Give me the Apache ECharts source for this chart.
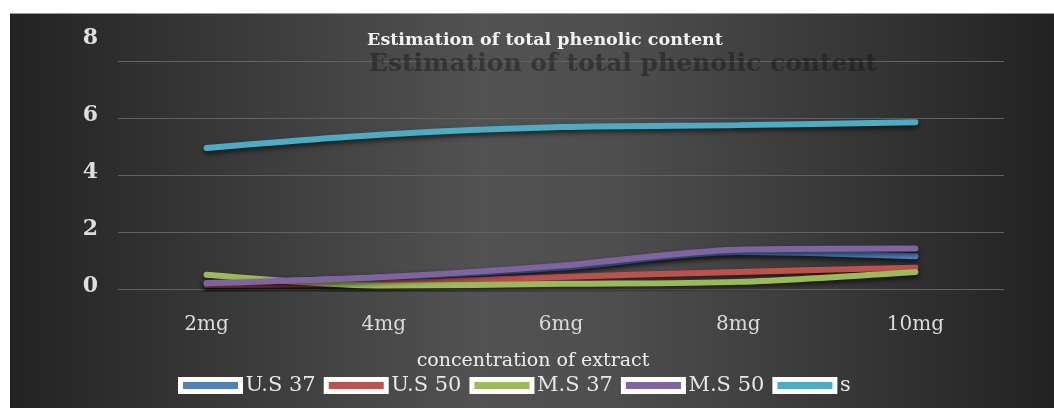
<!DOCTYPE html>
<html>
<head>
<meta charset="utf-8">
<script src="https://cdn.jsdelivr.net/npm/echarts@6/dist/echarts.min.js"></script>
<style>
  html, body { margin: 0; padding: 0; background: #ffffff; }
  #chart { position: absolute; left: 10px; top: 13px; width: 1044px; height: 395px; border-top: 1px solid #9a9a9a; box-sizing: border-box; }
</style>
</head>
<body>
<div id="chart"></div>
<script>
// Concentration levels on the x axis
const categories = ['2mg', '4mg', '6mg', '8mg', '10mg'];
// Total phenolic content per sample
const seriesNames = ['U.S 37', 'U.S 50', 'M.S 37', 'M.S 50', 's'];
const us37 = [0.22, 0.40, 0.75, 1.30, 1.15];
const us50 = [0.15, 0.20, 0.42, 0.60, 0.75];
const ms37 = [0.50, 0.12, 0.18, 0.25, 0.60];
const ms50 = [0.20, 0.42, 0.82, 1.38, 1.42];
const sStd = [4.95, 5.42, 5.68, 5.75, 5.85];
const yTicks = [0, 2, 4, 6, 8];

const colors = ['#4f81bd', '#c0504d', '#9bbb59', '#8064a2', '#4bacc6'];
const values = [us37, us50, ms37, ms50, sStd];
const serif = 'DejaVu Serif';

const chart = echarts.init(document.getElementById('chart'), null, { renderer: 'canvas' });

chart.setOption({
  backgroundColor: {
    type: 'linear', x: 0, y: 0, x2: 1, y2: 0,
    colorStops: [
      { offset: 0, color: '#232323' },
      { offset: 0.45, color: '#525252' },
      { offset: 0.58, color: '#4e4e4e' },
      { offset: 1, color: '#222222' }
    ]
  },
  animation: false,
  title: [
    {
      text: 'Estimation of total phenolic content',
      left: 608, top: 33, textAlign: 'center',
      textStyle: { fontFamily: serif, fontWeight: 'bold', fontSize: 25, color: 'rgba(20,20,20,0.45)' }
    },
    {
      text: 'Estimation of total phenolic content',
      left: 530, top: 12, textAlign: 'center',
      textStyle: { fontFamily: serif, fontWeight: 'bold', fontSize: 17.5, color: '#f2f2f2' }
    }
  ],
  grid: { left: 108, right: 50, top: 47, bottom: 119 },
  legend: {
    data: seriesNames,
    left: 163, top: 356,
    icon: 'rect',
    itemWidth: 60, itemHeight: 12, itemGap: 8,
    itemStyle: { borderColor: '#ffffff', borderWidth: 5 },
    textStyle: { fontFamily: serif, fontSize: 21, color: '#e8e8e8' }
  },
  xAxis: {
    type: 'category',
    data: categories,
    boundaryGap: true,
    name: 'concentration of extract',
    nameLocation: 'middle',
    nameGap: 63,
    nameTextStyle: { fontFamily: serif, fontSize: 19, color: '#ededed', padding: [0, 56, 0, 0] },
    axisLine: { show: false },
    axisTick: { show: false },
    axisLabel: { fontFamily: serif, fontSize: 20, color: '#dcdcdc', margin: 26 }
  },
  yAxis: {
    type: 'value',
    min: yTicks[0], max: yTicks[yTicks.length - 1], interval: 2,
    axisLine: { show: false },
    axisTick: { show: false },
    splitLine: { lineStyle: { color: '#626262', width: 1 } },
    axisLabel: {
      margin: 20,
      formatter: v => v === 8 ? '{top|' + v + '}' : '{n|' + v + '}',
      rich: {
        n: { fontFamily: serif, fontSize: 22, fontWeight: 'bold', color: '#dedede', padding: [0, 0, 6, 0] },
        top: { fontFamily: serif, fontSize: 22, fontWeight: 'bold', color: '#dedede', padding: [0, 0, 46, 0] }
      }
    }
  },
  series: seriesNames.map((name, i) => ({
    name: name,
    type: 'line',
    data: values[i],
    smooth: 0.3,
    symbol: 'none',
    color: colors[i],
    lineStyle: {
      width: 6, color: colors[i], cap: 'round',
      shadowColor: 'rgba(0,0,0,0.6)', shadowBlur: 5, shadowOffsetY: 3
    },
    itemStyle: { color: colors[i] }
  }))
});
</script>
</body>
</html>
